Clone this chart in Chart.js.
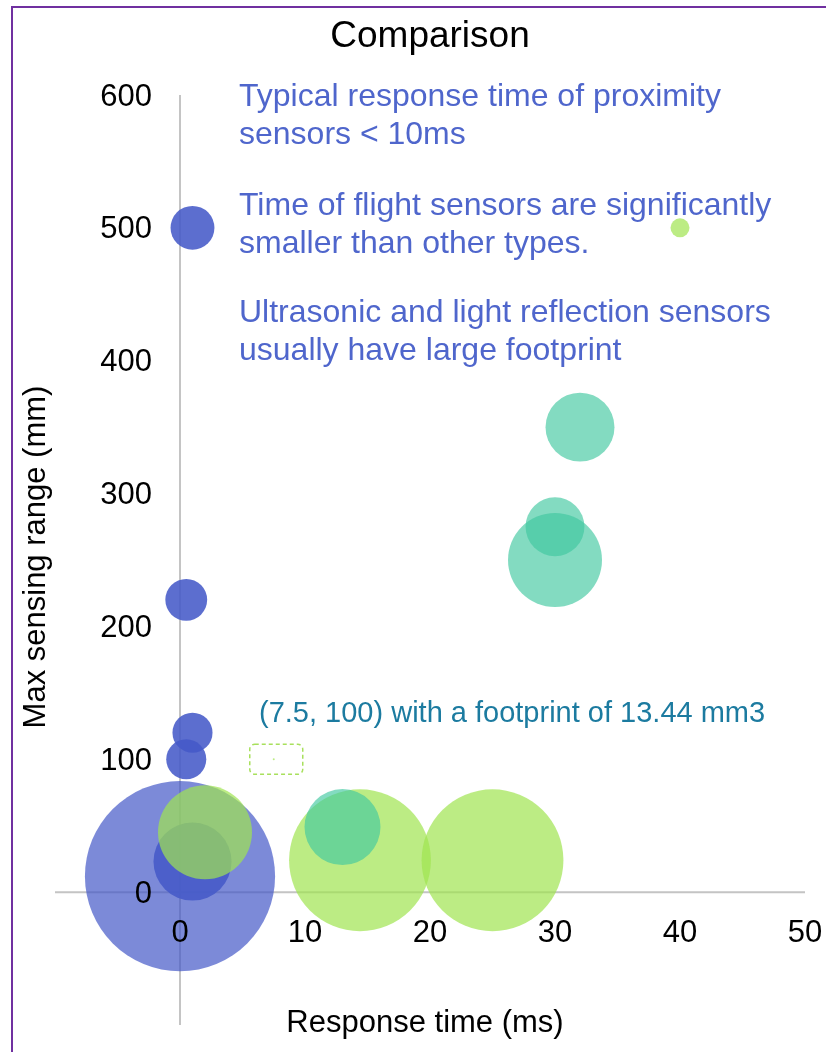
<!DOCTYPE html>
<html>
<head>
<meta charset="utf-8">
<title>Comparison</title>
<script src="https://cdn.jsdelivr.net/npm/chart.js@4.4.1/dist/chart.umd.min.js"></script>
<style>
  html, body { margin: 0; padding: 0; background: #fff; }
  #wrap { width: 826px; height: 1052px; }
</style>
</head>
<body>
<div id="wrap"><canvas id="myChart" width="826" height="1052"></canvas></div>
<script>
// response time (ms), max sensing range (mm), footprint (mm3)
const blueX = [0, 1, 1, 0.5, 1, 0.5];
const blueY = [12, 23, 500, 220, 120, 100];
const blueSize = [124000, 20900, 6600, 6000, 5500, 5500];

const limeX = [40, 2, 14.4, 25, 7.5];
const limeY = [500, 45, 24, 24, 100];
const limeSize = [1240, 30300, 69000, 69000, 13.44];

const tealX = [32, 30, 30, 13];
const tealY = [350, 275, 250, 49];
const tealSize = [16300, 11900, 30300, 19800];

const xTicks = [0, 10, 20, 30, 40, 50];
const yTicks = [0, 100, 200, 300, 400, 500, 600];

const chartTitle = 'Comparison';
const xTitle = 'Response time (ms)';
const yTitle = 'Max sensing range (mm)';

const notes = [
    ['Typical response time of proximity', 'sensors < 10ms'],
    ['Time of flight sensors are significantly', 'smaller than other types.'],
    ['Ultrasonic and light reflection sensors', 'usually have large footprint']
];
const callout = '(7.5, 100) with a footprint of 13.44 mm3';
const calloutPoint = [7.5, 100];

const FONT = '"Liberation Sans", Arial, sans-serif';

// bubble area follows the footprint
function bubbleR(size) {
    return 0.27 * Math.sqrt(size);
}

function toPoints(xs, ys, sizes) {
    return xs.map((x, i) => ({ x: x, y: ys[i], r: bubbleR(sizes[i]) }));
}

// big blue bubble is lighter than the small ones
const blueColors = blueSize.map(s => s > 100000 ? 'rgba(68,88,200,0.7)' : 'rgba(70,90,200,0.88)');

const extras = {
    id: 'extras',
    beforeDraw(chart) {
        const ctx = chart.ctx;
        ctx.save();
        ctx.strokeStyle = '#7030a0';
        ctx.lineWidth = 2;
        ctx.beginPath();
        ctx.moveTo(12, chart.height);
        ctx.lineTo(12, 7);
        ctx.lineTo(chart.width, 7);
        ctx.stroke();
        ctx.restore();
    },
    // axes cross at zero, under the bubbles
    beforeDatasetsDraw(chart) {
        const ctx = chart.ctx;
        const area = chart.chartArea;
        const x0 = chart.scales.x.getPixelForValue(0);
        const y0 = chart.scales.y.getPixelForValue(0);
        ctx.save();
        ctx.strokeStyle = '#c4c4c4';
        ctx.lineWidth = 2;
        ctx.beginPath();
        ctx.moveTo(area.left, y0);
        ctx.lineTo(area.right, y0);
        ctx.moveTo(x0, area.top);
        ctx.lineTo(x0, area.bottom);
        ctx.stroke();
        ctx.restore();
    },
    afterDraw(chart) {
        const ctx = chart.ctx;
        const xs = chart.scales.x;
        const ys = chart.scales.y;
        const x0 = xs.getPixelForValue(0);
        const y0 = ys.getPixelForValue(0);
        ctx.save();

        // tick labels next to the crossing axes
        ctx.font = '31px ' + FONT;
        ctx.fillStyle = '#000';
        ctx.textBaseline = 'middle';
        ctx.textAlign = 'center';
        xTicks.forEach(v => ctx.fillText(v, xs.getPixelForValue(v), y0 + 41));
        ctx.textAlign = 'right';
        yTicks.forEach(v => ctx.fillText(v, x0 - 28, ys.getPixelForValue(v) + 2));

        // axis titles
        ctx.textAlign = 'center';
        ctx.fillText(xTitle, 425, 1023);
        ctx.save();
        ctx.translate(36, 557);
        ctx.rotate(-Math.PI / 2);
        ctx.fillText(yTitle, 0, 0);
        ctx.restore();

        // text notes
        ctx.font = '32px ' + FONT;
        ctx.textAlign = 'left';
        ctx.fillStyle = '#4f66cc';
        const noteTop = [97, 206, 313];
        notes.forEach((lines, i) => {
            lines.forEach((line, j) => {
                ctx.fillText(line, 239, noteTop[i] + j * 38);
            });
        });

        // callout for the tiny bubble
        ctx.font = '29px ' + FONT;
        ctx.fillStyle = '#1c7ba0';
        ctx.fillText(callout, 259, 714);
        const px = xs.getPixelForValue(calloutPoint[0]);
        const py = ys.getPixelForValue(calloutPoint[1]);
        ctx.strokeStyle = '#a8e05c';
        ctx.lineWidth = 1.5;
        ctx.setLineDash([4, 3]);
        ctx.beginPath();
        ctx.roundRect(px - 24, py - 15, 53, 30, 5);
        ctx.stroke();
        ctx.restore();
    }
};

const ctx = document.getElementById('myChart');
const myChart = new Chart(ctx, {
    type: 'bubble',
    data: {
        datasets: [{
            label: 'Proximity',
            data: toPoints(blueX, blueY, blueSize),
            backgroundColor: blueColors,
            borderWidth: 0,
            order: 2
        }, {
            label: 'Time of flight',
            data: toPoints(limeX, limeY, limeSize),
            backgroundColor: 'rgba(160,228,80,0.7)',
            borderWidth: 0,
            order: 1
        }, {
            label: 'Ultrasonic',
            data: toPoints(tealX, tealY, tealSize),
            backgroundColor: 'rgba(64,200,160,0.65)',
            borderWidth: 0,
            order: 0
        }]
    },
    options: {
        responsive: false,
        animation: false,
        layout: {
            autoPadding: false,
            padding: { left: 55, right: 21, top: 0, bottom: 27 }
        },
        plugins: {
            legend: { display: false },
            tooltip: { enabled: false },
            title: {
                display: true,
                text: chartTitle,
                color: '#000',
                font: { family: FONT, size: 37, weight: 'normal' },
                padding: { top: 15, bottom: 35.6 }
            }
        },
        scales: {
            x: { type: 'linear', display: false, min: -10, max: 50 },
            y: { type: 'linear', display: false, min: -100, max: 600 }
        }
    },
    plugins: [extras]
});
</script>
</body>
</html>
